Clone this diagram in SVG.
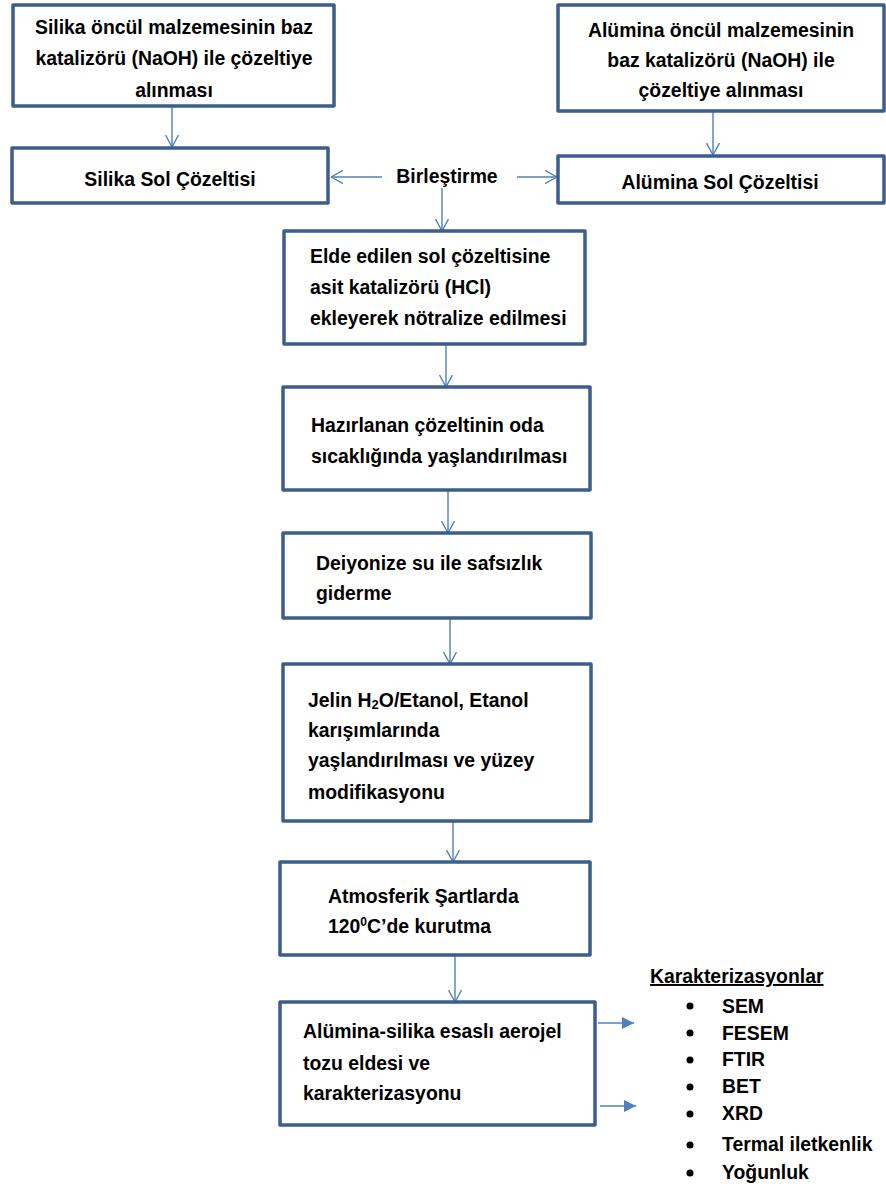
<svg xmlns="http://www.w3.org/2000/svg" width="886" height="1191" viewBox="0 0 886 1191">
<defs>
<style>
.box{fill:#fff;stroke:#3B5E8C;stroke-width:3.5;stroke-linejoin:round}
.t{font-family:"Liberation Sans",Arial,sans-serif;font-weight:bold;font-size:19.4px;fill:#000}
.c{text-anchor:middle}
.ln{stroke:#4F81BD;stroke-width:1.4;fill:none}
</style>
<marker id="open" viewBox="0 0 12 14" refX="12" refY="7" markerWidth="12" markerHeight="14" markerUnits="userSpaceOnUse" orient="auto">
<path d="M0,0.5 L12,7 L0,13.5" fill="none" stroke="#4F81BD" stroke-width="1.4"/>
</marker>
<marker id="fill" viewBox="0 0 12 12" refX="12" refY="6" markerWidth="12" markerHeight="12" markerUnits="userSpaceOnUse" orient="auto">
<path d="M0,0 L12,6 L0,12 Z" fill="#4F81BD"/>
</marker>
</defs>
<rect width="886" height="1191" fill="#fff"/>
<g id="connectors">
<line class="ln" x1="172" y1="106" x2="172" y2="147" marker-end="url(#open)"/>
<line class="ln" x1="713" y1="111" x2="713" y2="155" marker-end="url(#open)"/>
<line class="ln" x1="382" y1="177" x2="331" y2="177" marker-end="url(#open)"/>
<line class="ln" x1="517" y1="177" x2="557" y2="177" marker-end="url(#open)"/>
<line class="ln" x1="442" y1="188" x2="442" y2="231" marker-end="url(#open)"/>
<line class="ln" x1="446" y1="344" x2="446" y2="387" marker-end="url(#open)"/>
<line class="ln" x1="448" y1="490" x2="448" y2="533" marker-end="url(#open)"/>
<line class="ln" x1="450" y1="618" x2="450" y2="664" marker-end="url(#open)"/>
<line class="ln" x1="453" y1="821" x2="453" y2="862" marker-end="url(#open)"/>
<line class="ln" x1="455" y1="955" x2="455" y2="1002" marker-end="url(#open)"/>
<line class="ln" x1="598" y1="1023" x2="634" y2="1023" marker-end="url(#fill)"/>
<line class="ln" x1="600" y1="1106" x2="636" y2="1106" marker-end="url(#fill)"/>
</g>
<g id="n1">
<rect class="box" x="13" y="5" width="321" height="101"/>
<text class="t c" x="174" y="34">Silika öncül malzemesinin baz</text>
<text class="t c" x="174" y="65">katalizörü (NaOH) ile çözeltiye</text>
<text class="t c" x="174" y="97">alınması</text>
</g>
<g id="n2">
<rect class="box" x="12" y="148" width="316" height="55"/>
<text class="t c" x="170" y="186">Silika Sol Çözeltisi</text>
</g>
<g id="n3">
<rect class="box" x="558" y="5" width="326" height="106"/>
<text class="t c" x="721" y="37">Alümina öncül malzemesinin</text>
<text class="t c" x="721" y="67">baz katalizörü (NaOH) ile</text>
<text class="t c" x="721" y="97">çözeltiye alınması</text>
</g>
<g id="n4">
<rect class="box" x="558" y="156" width="326" height="47"/>
<text class="t c" x="720" y="189">Alümina Sol Çözeltisi</text>
</g>
<g id="birlestirme">
<text class="t c" x="447" y="183">Birleştirme</text>
</g>
<g id="n5">
<rect class="box" x="284" y="231" width="301" height="113"/>
<text class="t" x="310" y="263">Elde edilen sol çözeltisine</text>
<text class="t" x="310" y="294">asit katalizörü (HCl)</text>
<text class="t" x="310" y="325">ekleyerek nötralize edilmesi</text>
</g>
<g id="n6">
<rect class="box" x="283" y="387" width="307" height="103"/>
<text class="t" x="311" y="432">Hazırlanan çözeltinin oda</text>
<text class="t" x="311" y="463">sıcaklığında yaşlandırılması</text>
</g>
<g id="n7">
<rect class="box" x="283" y="533" width="308" height="85"/>
<text class="t" x="316" y="570">Deiyonize su ile safsızlık</text>
<text class="t" x="316" y="600">giderme</text>
</g>
<g id="n8">
<rect class="box" x="283" y="664" width="308" height="157"/>
<text class="t" x="308" y="707">Jelin H<tspan font-size="13" dy="2">2</tspan><tspan dy="-2">O/Etanol, Etanol</tspan></text>
<text class="t" x="308" y="737">karışımlarında</text>
<text class="t" x="308" y="767">yaşlandırılması ve yüzey</text>
<text class="t" x="308" y="799">modifikasyonu</text>
</g>
<g id="n9">
<rect class="box" x="280" y="862" width="310" height="93"/>
<text class="t" x="328" y="903">Atmosferik Şartlarda</text>
<text class="t" x="328" y="933">120<tspan font-size="12" dy="-7">0</tspan><tspan dy="7">C’de kurutma</tspan></text>
</g>
<g id="n10">
<rect class="box" x="280" y="1002" width="315" height="123"/>
<text class="t" x="303" y="1038">Alümina-silika esaslı aerojel</text>
<text class="t" x="303" y="1070">tozu eldesi ve</text>
<text class="t" x="303" y="1100">karakterizasyonu</text>
</g>
<g id="karakterizasyonlar">
<text class="t" x="650" y="983" text-decoration="underline">Karakterizasyonlar</text>
<g fill="#000">
<circle cx="690" cy="1006" r="3.5"/>
<circle cx="690" cy="1033" r="3.5"/>
<circle cx="690" cy="1060" r="3.5"/>
<circle cx="690" cy="1087" r="3.5"/>
<circle cx="690" cy="1114" r="3.5"/>
<circle cx="690" cy="1145" r="3.5"/>
<circle cx="690" cy="1173" r="3.5"/>
</g>
<text class="t" x="722" y="1013">SEM</text>
<text class="t" x="722" y="1040">FESEM</text>
<text class="t" x="722" y="1066">FTIR</text>
<text class="t" x="722" y="1093">BET</text>
<text class="t" x="722" y="1120">XRD</text>
<text class="t" x="722" y="1151">Termal iletkenlik</text>
<text class="t" x="722" y="1179">Yoğunluk</text>
</g>
</svg>
